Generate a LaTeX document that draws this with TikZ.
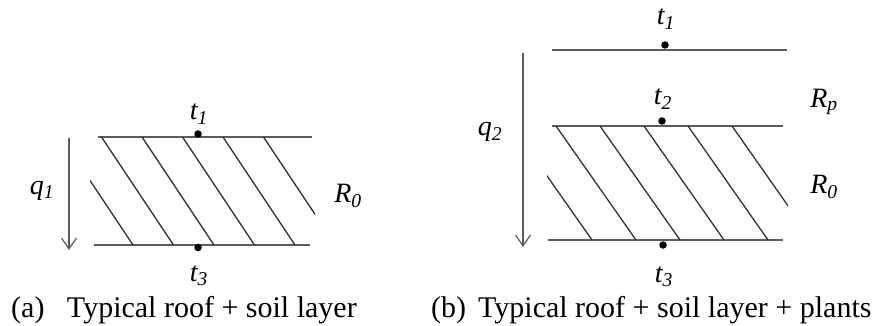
\documentclass[tikz,border=0pt]{standalone}
\usepackage{fontspec}
\setmainfont{Liberation Serif}
\usetikzlibrary{arrows.meta}
\definecolor{Line}{HTML}{5C5C5C}
\tikzset{
  layer/.style={draw=Line,line width=1.4pt},
  hatch/.style={draw=black!80,line width=1.3pt},
  probe/.style={circle,fill=black,inner sep=0pt,minimum size=7.5pt},
  lbl/.style={font=\fontsize{28}{32}\selectfont\itshape,inner sep=0pt},
  capt/.style={font=\fontsize{30}{34}\selectfont,inner sep=0pt,anchor=base west},
  flux/.style={draw=Line,line width=1.2pt,-{Straight Barb[length=11pt,width=15pt]}}
}

\begin{document}
\begin{tikzpicture}[x=1pt,y=-1pt]
  \useasboundingbox (0,0) rectangle (875,326);

  % (a) roof + soil layer
  \coordinate (topaW) at (98,137);  \coordinate (topaE) at (312,137);
  \coordinate (botaW) at (94,245);  \coordinate (botaE) at (310,245);
  \draw[layer] (topaW) -- (topaE);
  \draw[layer] (botaW) -- (botaE);
  \begin{scope}
    \clip (90,137) rectangle (315,245);
    \foreach \x in {61,101.5,...,264}
      \draw[hatch] (\x,137) -- ++(72,108);
  \end{scope}
  \node[probe] (ta1) at (198,134) {};
  \node[probe] (ta3) at (198,247.5) {};
  \node[lbl] (lta1) at (199,114) {t\textsubscript{1}};
  \node[lbl] (lta3) at (199,276) {t\textsubscript{3}};
  \node[lbl] (ra0) at (348,196) {R\textsubscript{0}};
  \node[lbl] (qa) at (42,191) {q\textsubscript{1}};
  \coordinate (qaS) at (69,138);
  \coordinate (qaE) at (69,250);
  \draw[flux] (qaS) -- (qaE);
  \node[capt] (capa) at (11,317) {(a)\hspace{0.75em}Typical roof + soil layer};

  % (b) roof + soil layer + plants
  \coordinate (topbW) at (552,50);  \coordinate (topbE) at (787,50);
  \coordinate (midbW) at (552,126); \coordinate (midbE) at (783,126);
  \coordinate (botbW) at (548,240); \coordinate (botbE) at (783,240);
  \draw[layer] (topbW) -- (topbE);
  \draw[layer] (midbW) -- (midbE);
  \draw[layer] (botbW) -- (botbE);
  \begin{scope}
    \clip (547,126) rectangle (788,240);
    \foreach \x in {512,556,...,735}
      \draw[hatch] (\x,126) -- ++(80,114);
  \end{scope}
  \node[probe] (tb1) at (665,45) {};
  \node[probe] (tb2) at (662,121) {};
  \node[probe] (tb3) at (663,245) {};
  \node[lbl] (ltb1) at (666,19) {t\textsubscript{1}};
  \node[lbl] (ltb2) at (663,99) {t\textsubscript{2}};
  \node[lbl] (ltb3) at (664,277) {t\textsubscript{3}};
  \node[lbl] (rbp) at (824,102) {R\textsubscript{p}};
  \node[lbl] (rb0) at (824,187) {R\textsubscript{0}};
  \node[lbl] (qb) at (490,132) {q\textsubscript{2}};
  \coordinate (qbS) at (523,53);
  \coordinate (qbE) at (523,247);
  \draw[flux] (qbS) -- (qbE);
  \node[capt] (capb) at (431,317) {(b)\hspace{0.4em}Typical roof + soil layer + plants};
\end{tikzpicture}
\end{document}
